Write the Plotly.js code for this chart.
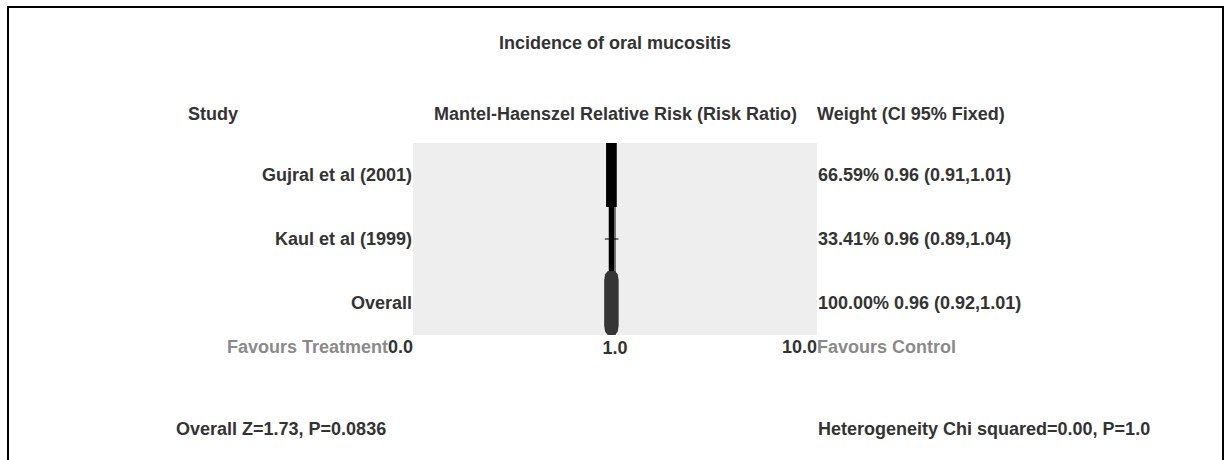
<!DOCTYPE html>
<html>
<head>
<meta charset="utf-8">
<script src="https://cdn.plot.ly/plotly-3.0.1.min.js"></script>
<style>
  html, body { margin: 0; padding: 0; background: #fff; }
  #wrap { position: relative; width: 1228px; height: 460px; overflow: hidden; }
  #chart { width: 1228px; height: 460px; }
  #frame {
    position: absolute; left: 7px; top: 6px; width: 1213px; height: 480px;
    border: 2px solid #000; border-bottom: none; pointer-events: none;
  }
</style>
</head>
<body>
<div id="wrap"><div id="chart"></div><div id="frame"></div></div>
<script>
// Forest plot: Mantel-Haenszel relative risk, fixed effect
const studies = ["Gujral et al (2001)", "Kaul et al (1999)", "Overall"];
const riskRatio = [0.96, 0.96, 0.96];
const ciLower = [0.91, 0.89, 0.92];
const ciUpper = [1.01, 1.04, 1.01];
const weightPct = [66.59, 33.41, 100.00];
const weightLabels = ["66.59% 0.96 (0.91,1.01)", "33.41% 0.96 (0.89,1.04)", "100.00% 0.96 (0.92,1.01)"];
const xTickVals = [0.1, 1, 10];
const xTickText = ["0.0", "1.0", "10.0"];
const overallStats = "Overall Z=1.73, P=0.0836";
const heterogeneityStats = "Heterogeneity Chi squared=0.00, P=1.0";

const rows = studies.map((_, i) => i + 1);
const FONT = "Liberation Sans, Arial, Helvetica, sans-serif";
const TEXT = "#333333";
const MUTED = "#8a8a8a";
const BOX_SCALE = 0.000398;   // log10 half-width per weight percent

const traces = [];

// CI whiskers
studies.forEach((s, i) => {
  traces.push({
    x: [ciLower[i], ciUpper[i]], y: [rows[i], rows[i]],
    mode: "lines", line: { color: "#000", width: 1 },
    hoverinfo: "skip", showlegend: false
  });
});

// weight boxes (studies) and summary blob (overall)
const blobDy = [-0.5, -0.45, -0.36, 0.36, 0.45, 0.5];
const blobHw = [0.45, 0.78, 0.9, 0.9, 0.78, 0.45];
studies.forEach((s, i) => {
  const half = weightPct[i] * BOX_SCALE;
  const lo = riskRatio[i] * Math.pow(10, -half);
  const hi = riskRatio[i] * Math.pow(10, half);
  const r = rows[i];
  if (s !== "Overall") {
    traces.push({
      x: [lo, hi, hi, lo, lo],
      y: [r - 0.5, r - 0.5, r + 0.5, r + 0.5, r - 0.5],
      mode: "lines", fill: "toself", fillcolor: "#000",
      line: { width: 0, color: "#000" }, hoverinfo: "skip", showlegend: false
    });
  } else {
    const xs = [], ys = [];
    blobDy.forEach((d, k) => { xs.push(riskRatio[i] * Math.pow(10, half * blobHw[k])); ys.push(r + d); });
    for (let k = blobDy.length - 1; k >= 0; k--) { xs.push(riskRatio[i] * Math.pow(10, -half * blobHw[k])); ys.push(r + blobDy[k]); }
    xs.push(xs[0]); ys.push(ys[0]);
    traces.push({
      x: xs, y: ys, mode: "lines", fill: "toself", fillcolor: "#353535",
      line: { width: 0, color: "#353535" }, hoverinfo: "skip", showlegend: false
    });
  }
});

// carrier for the right-hand weight column
traces.push({
  x: riskRatio, y: rows, yaxis: "y2", mode: "markers",
  marker: { opacity: 0 }, hoverinfo: "skip", showlegend: false
});

const boldFont = (size, color) => ({ family: FONT, size: size, color: color, weight: "bold" });
const log10 = v => Math.log10(v);

const annotations = [
  { text: "Study", xref: "paper", yref: "paper", x: -0.561, y: 1.153, xanchor: "left", yanchor: "middle", showarrow: false, font: boldFont(18, TEXT) },
  { text: "Mantel-Haenszel Relative Risk (Risk Ratio)", xref: "paper", yref: "paper", x: 0.5, y: 1.153, xanchor: "center", yanchor: "middle", showarrow: false, font: boldFont(18, TEXT) },
  { text: "Weight (CI 95% Fixed)", xref: "paper", yref: "paper", x: 1.0, xshift: -2, y: 1.153, xanchor: "left", yanchor: "middle", showarrow: false, font: boldFont(18, TEXT) },
  { text: "<span style='color:" + MUTED + "'>Favours Treatment</span>" + xTickText[0], xref: "x", yref: "paper", x: log10(xTickVals[0]), xshift: 2, y: -0.065, xanchor: "right", yanchor: "middle", showarrow: false, font: boldFont(18, TEXT) },
  { text: xTickText[2], xref: "x", yref: "paper", x: log10(xTickVals[2]), xshift: 2, y: -0.065, xanchor: "right", yanchor: "middle", showarrow: false, font: boldFont(18, TEXT) },
  { text: "Favours Control", xref: "x", yref: "paper", x: log10(xTickVals[2]), xshift: -2, y: -0.065, xanchor: "left", yanchor: "middle", showarrow: false, font: boldFont(18, MUTED) },
  { text: overallStats, xref: "paper", yref: "paper", x: -0.5916, y: -0.49, xanchor: "left", yanchor: "middle", showarrow: false, font: boldFont(18, TEXT) },
  { text: heterogeneityStats, xref: "paper", yref: "paper", x: 1.0, xshift: -1, y: -0.49, xanchor: "left", yanchor: "middle", showarrow: false, font: boldFont(18, TEXT) }
];

const layout = {
  width: 1228, height: 460,
  margin: { l: 413, r: 411, t: 143, b: 125, pad: 0 },
  paper_bgcolor: "#ffffff",
  plot_bgcolor: "#eeeeee",
  showlegend: false,
  hovermode: false,
  font: { family: FONT, color: TEXT },
  title: {
    text: "Incidence of oral mucositis",
    font: boldFont(18, TEXT),
    x: 0.5, xref: "paper", xanchor: "center",
    y: 1 - 42.5 / 460, yref: "container", yanchor: "middle"
  },
  xaxis: {
    type: "log", range: [log10(xTickVals[0]), log10(xTickVals[2])],
    showgrid: false, zeroline: false, showline: false, ticks: "",
    tickvals: [xTickVals[1]], ticktext: [xTickText[1]],
    tickfont: boldFont(18, TEXT), fixedrange: true
  },
  yaxis: {
    range: [3.5, 0.5], showgrid: false, zeroline: false, showline: false, ticks: "",
    tickvals: rows, ticktext: studies, tickfont: boldFont(18, TEXT),
    ticklabelstandoff: 0, fixedrange: true
  },
  yaxis2: {
    overlaying: "y", side: "right", anchor: "x",
    range: [3.5, 0.5], showgrid: false, zeroline: false, showline: false, ticks: "",
    tickvals: rows, ticktext: weightLabels, tickfont: boldFont(18, TEXT),
    ticklabelstandoff: 0, fixedrange: true
  },
  shapes: [
    { type: "line", xref: "x", yref: "paper", x0: xTickVals[1], x1: xTickVals[1], y0: 0, y1: 1,
      line: { color: "#000", width: 1 }, layer: "below" }
  ],
  annotations: annotations
};

Plotly.newPlot("chart", traces, layout, { staticPlot: true, displayModeBar: false });
</script>
</body>
</html>
